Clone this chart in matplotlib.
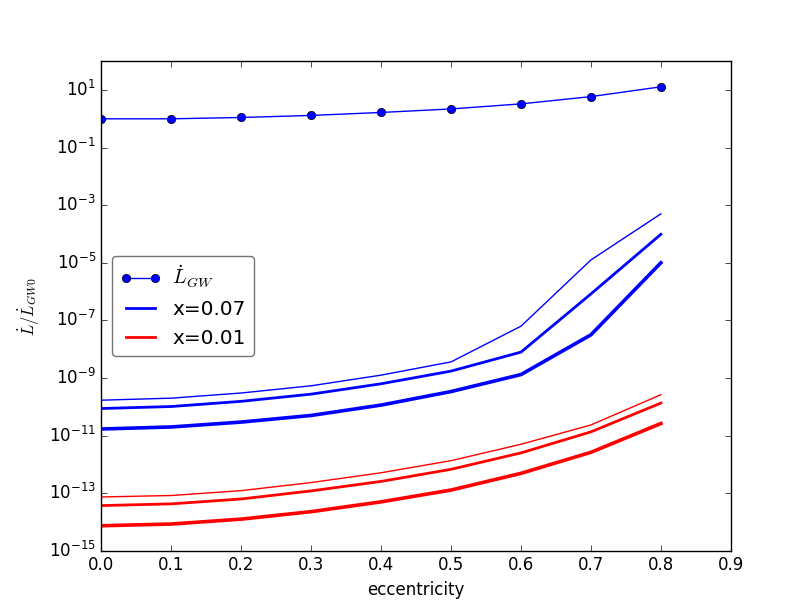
import matplotlib
matplotlib.use("Agg")
import matplotlib.pyplot as plt
import numpy as np
from matplotlib.ticker import NullLocator

plt.style.use('classic')

ecc = [0.0, 0.1, 0.2, 0.3, 0.4, 0.5, 0.6, 0.7, 0.8]

L_gw = [1.0, 1.0, 1.11, 1.31, 1.66, 2.2, 3.3, 5.9, 12.9]

# x=0.07 (blue): thin, medium, thick (log10 values)
blue_thin_log = [-9.77, -9.70, -9.52, -9.27, -8.90, -8.44, -7.20, -4.90, -3.30]
blue_med_log = [-10.06, -9.99, -9.81, -9.56, -9.20, -8.76, -8.10, -6.08, -4.01]
blue_thick_log = [-10.77, -10.70, -10.53, -10.30, -9.94, -9.47, -8.88, -7.50, -5.00]

# x=0.01 (red): thin, medium, thick (log10 values)
red_thin_log = [-13.13, -13.08, -12.91, -12.63, -12.29, -11.87, -11.30, -10.63, -9.58]
red_med_log = [-13.43, -13.37, -13.20, -12.92, -12.59, -12.17, -11.60, -10.87, -9.87]
red_thick_log = [-14.13, -14.07, -13.90, -13.64, -13.30, -12.89, -12.31, -11.58, -10.58]

fig = plt.figure(figsize=(8.12, 6.12), dpi=100, facecolor='white')
ax = fig.add_axes([0.125, 0.1, 0.775, 0.8])

ax.semilogy(ecc, L_gw, 'b-o', lw=1, markersize=6, label=r'$\dot{L}_{GW}$')
ax.semilogy(ecc, 10 ** np.array(blue_thin_log), color='b', lw=1)
ax.semilogy(ecc, 10 ** np.array(blue_med_log), color='b', lw=2, label='x=0.07')
ax.semilogy(ecc, 10 ** np.array(blue_thick_log), color='b', lw=2.6)
ax.semilogy(ecc, 10 ** np.array(red_thin_log), color='r', lw=1)
ax.semilogy(ecc, 10 ** np.array(red_med_log), color='r', lw=2, label='x=0.01')
ax.semilogy(ecc, 10 ** np.array(red_thick_log), color='r', lw=2.6)

ax.set_xlim(0, 0.9)
ax.set_ylim(1e-15, 1e2)
ax.set_xticks(np.arange(0, 0.91, 0.1))
ax.set_yticks([10.0 ** k for k in range(-15, 2, 2)])
ax.yaxis.set_minor_locator(NullLocator())

ax.set_xlabel('eccentricity')
ax.set_ylabel(r'$\dot{L}/\dot{L}_{GW0}$')

leg = ax.legend(loc='center left', fontsize=14.4, numpoints=2, fancybox=True,
                borderaxespad=0.55, handletextpad=0.6)
leg.get_frame().set_edgecolor('0.45')

fig.savefig('out.png', dpi=100, facecolor='white')
